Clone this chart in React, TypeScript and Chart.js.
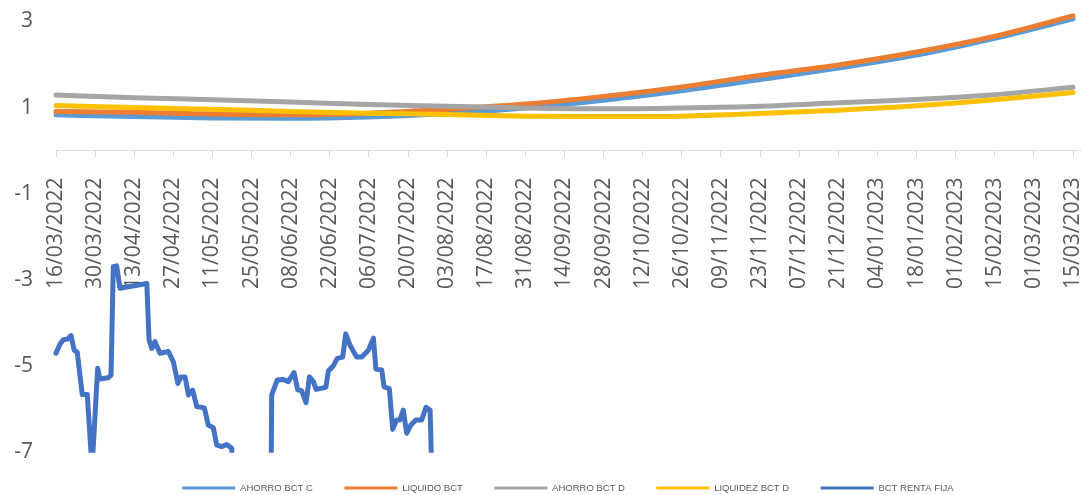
import { useEffect, useRef } from "react";
import { Chart, registerables } from "chart.js";

Chart.register(...registerables);

// X axis: day offsets from 16/03/2022, labelled every 14 days
const tickLabels = [
  "16/03/2022", "30/03/2022", "13/04/2022", "27/04/2022", "11/05/2022", "25/05/2022",
  "08/06/2022", "22/06/2022", "06/07/2022", "20/07/2022", "03/08/2022", "17/08/2022",
  "31/08/2022", "14/09/2022", "28/09/2022", "12/10/2022", "26/10/2022", "09/11/2022",
  "23/11/2022", "07/12/2022", "21/12/2022", "04/01/2023", "18/01/2023", "01/02/2023",
  "15/02/2023", "01/03/2023", "15/03/2023",
];
const tickDays = [
  0, 14, 28, 42, 56, 70, 84, 98, 112, 126, 140, 154, 168, 182, 196, 210, 224, 238,
  252, 266, 280, 294, 308, 322, 336, 350, 364,
];
const yTicks = [-7, -5, -3, -1, 1, 3];

// Smooth series (sampled every 28 days)
const smoothDays = [0, 28, 56, 84, 112, 140, 168, 196, 224, 252, 280, 308, 336, 364];
const ahorroC = [0.83, 0.79, 0.76, 0.75, 0.78, 0.86, 0.99, 1.17, 1.39, 1.65, 1.92, 2.22, 2.61, 3.06];
const liquido = [0.91, 0.89, 0.85, 0.83, 0.87, 0.96, 1.08, 1.26, 1.48, 1.75, 1.99, 2.29, 2.66, 3.13];
const ahorroD = [1.29, 1.23, 1.18, 1.13, 1.07, 1.03, 0.99, 0.97, 0.99, 1.03, 1.11, 1.19, 1.3, 1.47];
const liquidezD = [1.05, 1.0, 0.96, 0.91, 0.87, 0.84, 0.8, 0.79, 0.8, 0.86, 0.94, 1.04, 1.18, 1.35];

// BCT RENTA FIJA
const rentaDays = [
  0, 1.4, 2.6, 4.2, 5.4, 6.5, 7.6, 9.4, 11.2, 12.9, 14.9, 15.7, 18.7, 19.7, 20.5, 21.7,
  22.9, 32.5, 33.3, 34.3, 35.4, 37.2, 40.2, 42.0, 43.6, 44.7, 46.2, 47.4, 48.9, 50.4,
  53.1, 54.5, 56.3, 57.5, 59.3, 61.1, 62.9, 63.7, 76.9,
  77.2, 79.2, 81.4, 83.1, 85.2, 86.5, 87.9, 89.5, 90.7, 92.1, 93.1, 96.6, 97.5, 99.2,
  100.7, 102.6, 103.7, 105.2, 107.6, 109.4, 111.8, 113.6, 114.5, 116.6, 117.4, 119.3,
  120.5, 121.9, 123.1, 124.3, 125.5, 127.0, 128.8, 130.9, 132.4, 133.9, 134.9,
];
const rentaFija = [
  -4.71, -4.5, -4.4, -4.38, -4.3, -4.64, -4.69, -5.67, -5.67, -7.4, -5.06, -5.31, -5.28, -5.22, -2.7, -2.68,
  -3.2, -3.09, -4.4, -4.6, -4.44, -4.71, -4.67, -4.91, -5.41, -5.26, -5.26, -5.68, -5.57, -5.95,
  -5.98, -6.38, -6.44, -6.84, -6.88, -6.83, -6.92, -8.5, -8.5,
  -5.68, -5.33, -5.32, -5.37, -5.16, -5.56, -5.58, -5.86, -5.26, -5.37, -5.55, -5.5, -5.12, -5.01,
  -4.83, -4.8, -4.26, -4.52, -4.8, -4.8, -4.64, -4.36, -5.08, -5.1, -5.49, -5.53,
  -6.48, -6.26, -6.26, -6.03, -6.57, -6.38, -6.26, -6.26, -5.97, -6.03, -8.5,
];

const seriesNames = ["AHORRO BCT C", "LIQUIDO BCT", "AHORRO BCT D", "LIQUIDEZ BCT D", "BCT RENTA FIJA"];
const seriesColors = ["#5B9BD5", "#ED7D31", "#A5A5A5", "#FFC000", "#4472C4"];

const toPts = (xs: number[], ys: number[]) => xs.map((x, i) => ({ x, y: ys[i] }));

export default function App() {
  const ref = useRef<HTMLCanvasElement>(null);

  useEffect(() => {
    if (!ref.current) return;
    const tickFont = { family: "'Open Sans', sans-serif", size: 21 };
    const clip = { left: 5, top: 10, right: 5, bottom: 1 };
    const smooth = [ahorroC, liquido, ahorroD, liquidezD];
    const datasets: any[] = smooth.map((vals, i) => ({
      label: seriesNames[i],
      data: toPts(smoothDays, vals),
      borderColor: seriesColors[i],
      backgroundColor: seriesColors[i],
      borderWidth: 5,
      cubicInterpolationMode: "monotone",
      order: 4 - i,
      clip,
    }));
    datasets.push({
      label: seriesNames[4],
      data: toPts(rentaDays, rentaFija),
      borderColor: seriesColors[4],
      backgroundColor: seriesColors[4],
      borderWidth: 5,
      tension: 0,
      order: 0,
      clip,
    });

    const chart = new Chart(ref.current, {
      type: "line",
      data: { datasets },
      options: {
        animation: false,
        responsive: false,
        layout: { padding: { top: 8.6, bottom: -7.75, left: 0, right: 8 } },
        elements: {
          point: { radius: 0, hoverRadius: 0 },
          line: { borderCapStyle: "round", borderJoinStyle: "round" },
        },
        plugins: {
          tooltip: { enabled: false },
          legend: {
            position: "bottom",
            fullSize: false,
            labels: {
              boxWidth: 53,
              boxHeight: 3,
              padding: 31.5,
              color: "#595959",
              font: { family: "'Liberation Sans', Arial, sans-serif", size: 9.5 },
              generateLabels: (c: any) =>
                c.data.datasets.map((ds: any, i: number) => ({
                  text: ds.label,
                  fillStyle: ds.borderColor,
                  strokeStyle: ds.borderColor,
                  lineWidth: 0,
                  hidden: false,
                  datasetIndex: i,
                  fontColor: "#595959",
                })),
            },
          },
        },
        scales: {
          x: {
            type: "linear",
            min: 0,
            max: 366.5,
            position: { y: 0 } as any,
            grid: { display: true, drawOnChartArea: false, drawTicks: true, tickLength: 6, color: "#D9D9D9" },
            border: { display: true, color: "#D9D9D9", width: 1 },
            ticks: {
              autoSkip: false,
              maxRotation: 90,
              minRotation: 90,
              padding: 21,
              color: "#595959",
              font: tickFont,
              callback: (_v: any, i: number) => tickLabels[i],
            },
            afterBuildTicks: (s: any) => {
              s.ticks = tickDays.map((v) => ({ value: v }));
            },
            afterFit: (s: any) => {
              s.height = 0;
              s.paddingLeft = 0;
              s.paddingRight = 0;
            },
          },
          y: {
            type: "linear",
            min: -7,
            max: 3.3,
            grid: { display: false, drawTicks: false },
            border: { display: false },
            ticks: { padding: 23, color: "#595959", font: tickFont },
            afterBuildTicks: (s: any) => {
              s.ticks = yTicks.map((v) => ({ value: v }));
            },
            afterFit: (s: any) => {
              s.width = 56;
              s.paddingTop = 0;
              s.paddingBottom = 0;
            },
          },
        },
      } as any,
    });
    return () => chart.destroy();
  }, []);

  return (
    <div style={{ position: "fixed", left: 0, top: 0, width: 1088, height: 495, background: "#fff" }}>
      <canvas ref={ref} width={1088} height={495} style={{ display: "block" }} />
    </div>
  );
}
